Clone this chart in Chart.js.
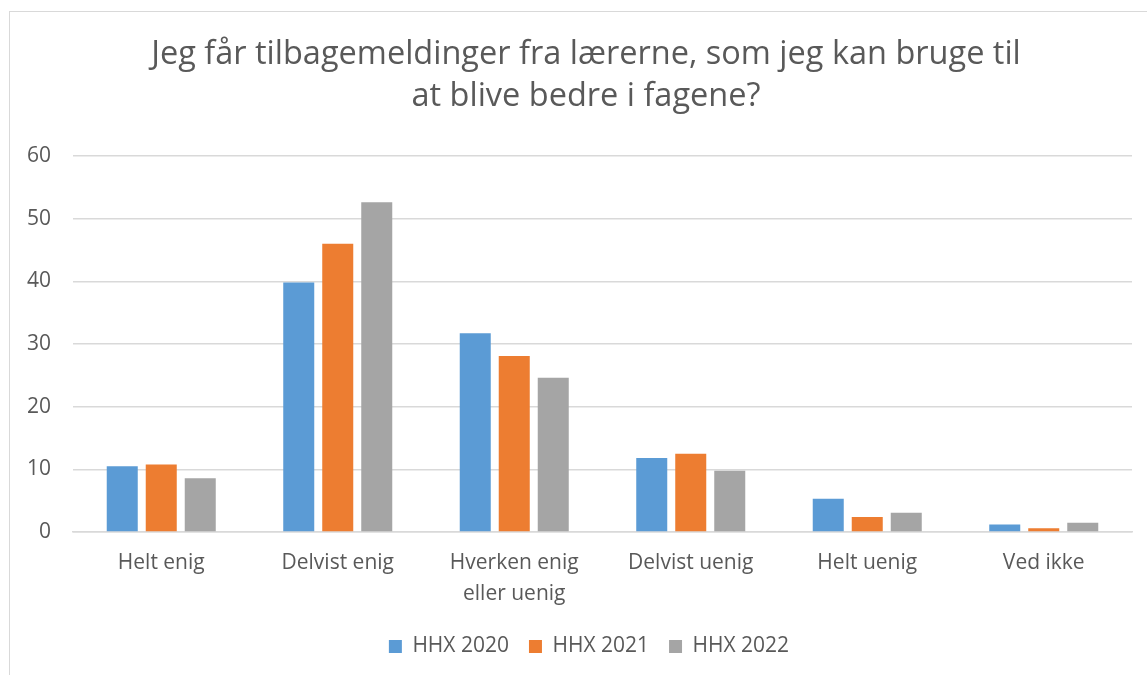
<!DOCTYPE html>
<html><head><meta charset="utf-8">
<script src="https://cdn.jsdelivr.net/npm/chart.js@4/dist/chart.umd.min.js"></script>
<style>
html,body{margin:0;padding:0;background:#fff;width:1147px;height:675px;overflow:hidden;}
#frame{position:absolute;left:9px;top:11px;width:1200px;height:700px;border:1.5px solid #d9d9d9;box-sizing:border-box;}
#wrap{position:absolute;left:0;top:0;width:1147px;height:675px;}
</style></head><body>
<div id="frame"></div>
<div id="wrap"><canvas id="c" width="1147" height="675"></canvas></div>
<script>
const categories = ["Helt enig", "Delvist enig", ["Hverken enig", "eller uenig"], "Delvist uenig", "Helt uenig", "Ved ikke"];
const seriesNames = ["HHX 2020", "HHX 2021", "HHX 2022"];
const hhx2020 = [10.5, 39.8, 31.7, 11.8, 5.3, 1.2];
const hhx2021 = [10.8, 46.0, 28.1, 12.5, 2.4, 0.6];
const hhx2022 = [8.6, 52.6, 24.6, 9.8, 3.1, 1.5];
const yTicks = [0, 10, 20, 30, 40, 50, 60];
const titleLines = ["Jeg får tilbagemeldinger fra lærerne, som jeg kan bruge til", "at blive bedre i fagene?"];

const colors = ["#5b9bd5", "#ed7d31", "#a5a5a5"];
const txt = "#595959";
const FONT = "'Open Sans', sans-serif";

// Centre title and legend on the full (cropped) chart frame rather than the plot.
const centerShift = {
  id: 'centerShift',
  beforeDraw(chart) {
    if (chart.titleBlock) { chart.titleBlock.left = 40; chart.titleBlock.width = chart.titleBlock.right - 40; }
    if (chart.legend) { chart.legend.left = 46; chart.legend.width = chart.legend.right - 46; }
  }
};

new Chart(document.getElementById('c'), {
  type: 'bar',
  data: {
    labels: categories,
    datasets: [hhx2020, hhx2021, hhx2022].map((d, i) => ({
      label: seriesNames[i], data: d, backgroundColor: colors[i], borderWidth: 0,
      categoryPercentage: 0.663, barPercentage: 0.795
    }))
  },
  plugins: [centerShift],
  options: {
    responsive: false, animation: false,
    layout: { padding: { left: 0, right: 15, top: 0, bottom: 8 } },
    plugins: {
      title: { display: true, text: titleLines, color: txt,
        font: { family: FONT, size: 32.5, weight: 'normal', lineHeight: 1.29 },
        padding: { top: 34, bottom: 38 } },
      legend: { position: 'bottom', labels: { color: txt, boxWidth: 13, boxHeight: 13,
        font: { family: FONT, size: 21 }, padding: 20 } },
      tooltip: { enabled: false }
    },
    scales: {
      x: {
        afterFit: s => { s.height = s.height - 9; },
        grid: { display: false, drawTicks: false },
        border: { display: true, color: '#d9d9d9', width: 1.5 },
        ticks: { color: txt, font: { family: FONT, size: 21, lineHeight: 1.45 }, padding: 16, maxRotation: 0, autoSkip: false }
      },
      y: {
        min: 0, max: 60,
        afterBuildTicks: s => { s.ticks = yTicks.map(v => ({ value: v })); },
        afterFit: s => { s.width = 73; },
        grid: { color: '#d9d9d9', lineWidth: 1.5, drawTicks: false },
        border: { display: false },
        ticks: { color: txt, font: { family: FONT, size: 21 }, padding: 22 }
      }
    }
  }
});
</script>
</body></html>
